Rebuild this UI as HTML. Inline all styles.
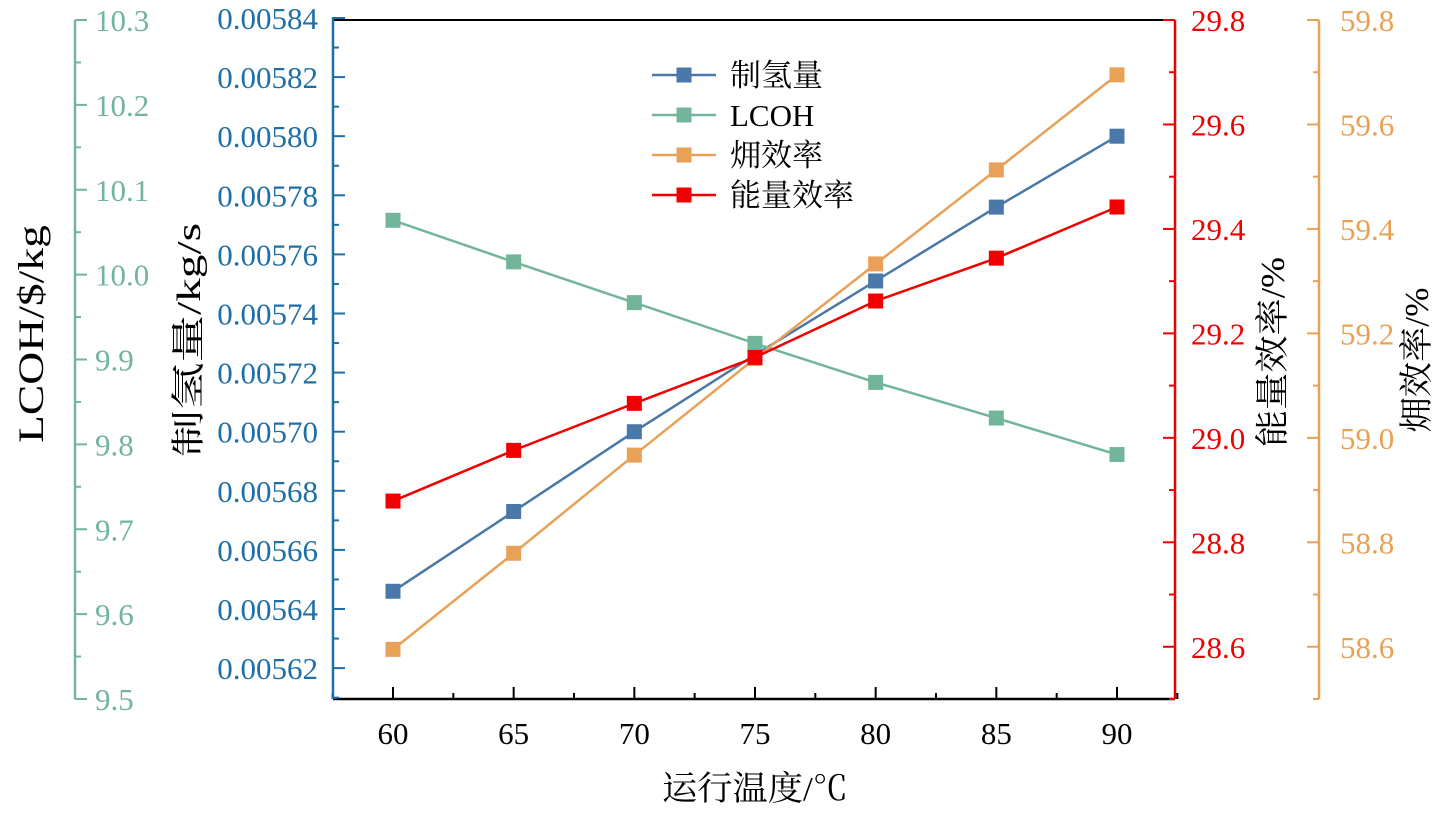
<!DOCTYPE html>
<html><head><meta charset="utf-8"><style>
html,body{margin:0;padding:0;background:#fff;}
svg{display:block;font-family:"Liberation Serif","Noto Serif CJK SC",serif;}
</style></head><body>
<svg id="chart" width="1443" height="813"></svg>
<script>
const temps=[60,65,70,75,80,85,90];
const h2Rate=[0.005646,0.005673,0.005700,0.005726,0.005751,0.005776,0.005800];
const lcoh=[10.064,10.015,9.967,9.919,9.873,9.831,9.788];
const exergyEff=[58.595,58.779,58.967,59.152,59.333,59.513,59.695];
const energyEff=[28.879,28.976,29.066,29.154,29.262,29.344,29.442];
const xTicks=[60,65,70,75,80,85,90];
const blueTicks=[0.00562,0.00564,0.00566,0.00568,0.00570,0.00572,0.00574,0.00576,0.00578,0.00580,0.00582,0.00584];
const greenTicks=[9.5,9.6,9.7,9.8,9.9,10.0,10.1,10.2,10.3];
const redTicks=[28.6,28.8,29.0,29.2,29.4,29.6,29.8];
const orangeTicks=[58.6,58.8,59.0,59.2,59.4,59.6,59.8];

const svg=document.getElementById('chart');
const NS='http://www.w3.org/2000/svg';
function mk(t,a,txt){const e=document.createElementNS(NS,t);for(const k in a)e.setAttribute(k,a[k]);if(txt!==undefined)e.textContent=txt;svg.appendChild(e);return e;}
const L=333,R=1175,T=20,B=699;
const X=v=>393+(v-60)*(1117-393)/30;
const YB=v=>18+(0.00584-v)/0.00002*59.1;
const YG=v=>T+(10.3-v)/0.8*(B-T);
const YR=v=>T+(29.8-v)/1.3*(B-T);
const YO=v=>T+(59.8-v)/1.3*(B-T);
const cB='#1f6fa6',cG='#72b59a',cR='#f00000',cO='#e8a156',cBl='#4a78a8';
const FS=31;

let e;
e=mk('line',{x1:L,y1:T,x2:R,y2:T,stroke:'#000','stroke-width':2});

e=mk('line',{x1:L,y1:B,x2:R,y2:B,stroke:'#000','stroke-width':2.5});

xTicks.forEach(v=>{
  e=mk('line',{x1:X(v),y1:B,x2:X(v),y2:B-12,stroke:'#000','stroke-width':2});
  
  e=mk('line',{x1:X(v+2.5),y1:B,x2:X(v+2.5),y2:B-6,stroke:'#000','stroke-width':2});
  
  e=mk('text',{x:X(v),y:744,'font-size':FS,'text-anchor':'middle',fill:'#000'},v);
  
});
e=mk('line',{x1:X(57.5),y1:B,x2:X(57.5),y2:B-6,stroke:'#000','stroke-width':2});
e=mk('text',{x:755,y:800,'font-size':34,'text-anchor':'middle',fill:'#000',textLength:186,lengthAdjust:'spacingAndGlyphs'},'运行温度/℃');


// blue axis
e=mk('line',{x1:L,y1:T-3,x2:L,y2:B,stroke:cB,'stroke-width':2.5});

blueTicks.forEach(v=>{
  e=mk('line',{x1:L,y1:YB(v),x2:L+12,y2:YB(v),stroke:cB,'stroke-width':2});
  
  e=mk('line',{x1:L,y1:YB(v-0.00001),x2:L+6,y2:YB(v-0.00001),stroke:cB,'stroke-width':2});
  e=mk('text',{x:L-15,y:YB(v)+11,'font-size':FS,'text-anchor':'end',fill:cB},v.toFixed(5));
  
});
e=mk('text',{transform:'translate(200,340) rotate(-90)','font-size':34,'text-anchor':'middle',fill:'#000',textLength:234,lengthAdjust:'spacingAndGlyphs'},'制氢量/kg/s');


// green axis
const GX=75;
e=mk('line',{x1:GX,y1:T,x2:GX,y2:B,stroke:cG,'stroke-width':2.5});

greenTicks.forEach(v=>{
  e=mk('line',{x1:GX,y1:YG(v),x2:GX+12,y2:YG(v),stroke:cG,'stroke-width':2});
  
  if(v<10.3){e=mk('line',{x1:GX,y1:YG(v+0.05),x2:GX+6,y2:YG(v+0.05),stroke:cG,'stroke-width':2});}
  e=mk('text',{x:GX+20,y:YG(v)+11,'font-size':FS,fill:cG},v.toFixed(1));
  
});
e=mk('text',{transform:'translate(43,334) rotate(-90)','font-size':36,'text-anchor':'middle',fill:'#000',textLength:218,lengthAdjust:'spacingAndGlyphs'},'LCOH/$/kg');


// red axis
e=mk('line',{x1:R,y1:T,x2:R,y2:B,stroke:cR,'stroke-width':2.5});

redTicks.forEach(v=>{
  e=mk('line',{x1:R,y1:YR(v),x2:R-12,y2:YR(v),stroke:cR,'stroke-width':2});
  
  e=mk('line',{x1:R,y1:YR(v-0.1),x2:R-6,y2:YR(v-0.1),stroke:cR,'stroke-width':2});
  e=mk('text',{x:R+16,y:YR(v)+11,'font-size':FS,fill:cR},v.toFixed(1));
  
});
e=mk('text',{transform:'translate(1284,352) rotate(-90)','font-size':34,'text-anchor':'middle',fill:'#000',textLength:190,lengthAdjust:'spacingAndGlyphs'},'能量效率/%');


// orange axis
const OX=1319;
e=mk('line',{x1:OX,y1:T,x2:OX,y2:B,stroke:cO,'stroke-width':2.5});

orangeTicks.forEach(v=>{
  e=mk('line',{x1:OX,y1:YO(v),x2:OX-12,y2:YO(v),stroke:cO,'stroke-width':2});
  
  e=mk('line',{x1:OX,y1:YO(v-0.1),x2:OX-6,y2:YO(v-0.1),stroke:cO,'stroke-width':2});
  e=mk('text',{x:OX+21,y:YO(v)+11,'font-size':FS,fill:cO},v.toFixed(1));
  
});
e=mk('text',{transform:'translate(1428,360) rotate(-90)','font-size':34,'text-anchor':'middle',fill:'#000',textLength:145,lengthAdjust:'spacingAndGlyphs'},'㶲效率/%');


function series(vals,Y,col,name){
  const pts=temps.map((t,i)=>X(t)+','+Y(vals[i])).join(' ');
  let p=mk('polyline',{points:pts,fill:'none',stroke:col,'stroke-width':2.5});
  
  temps.forEach((t,i)=>{
    let r=mk('rect',{x:X(t)-7.5,y:Y(vals[i])-7.5,width:15,height:15,fill:col});
    
  });
}
series(h2Rate,YB,cBl,'h2-rate');
series(lcoh,YG,cG,'lcoh');
series(exergyEff,YO,cO,'exergy-eff');
series(energyEff,YR,cR,'energy-eff');

const leg=[['制氢量',cBl],['LCOH',cG],['㶲效率',cO],['能量效率',cR]];
leg.forEach((d,i)=>{
  const y=75+i*40;
  e=mk('line',{x1:652,y1:y,x2:716,y2:y,stroke:d[1],'stroke-width':2.5});
  
  e=mk('rect',{x:676.5,y:y-7.5,width:15,height:15,fill:d[1]});
  
  e=mk('text',{x:730,y:y+11,'font-size':31,fill:'#000'},d[0]);
  
});
</script>
</body></html>
